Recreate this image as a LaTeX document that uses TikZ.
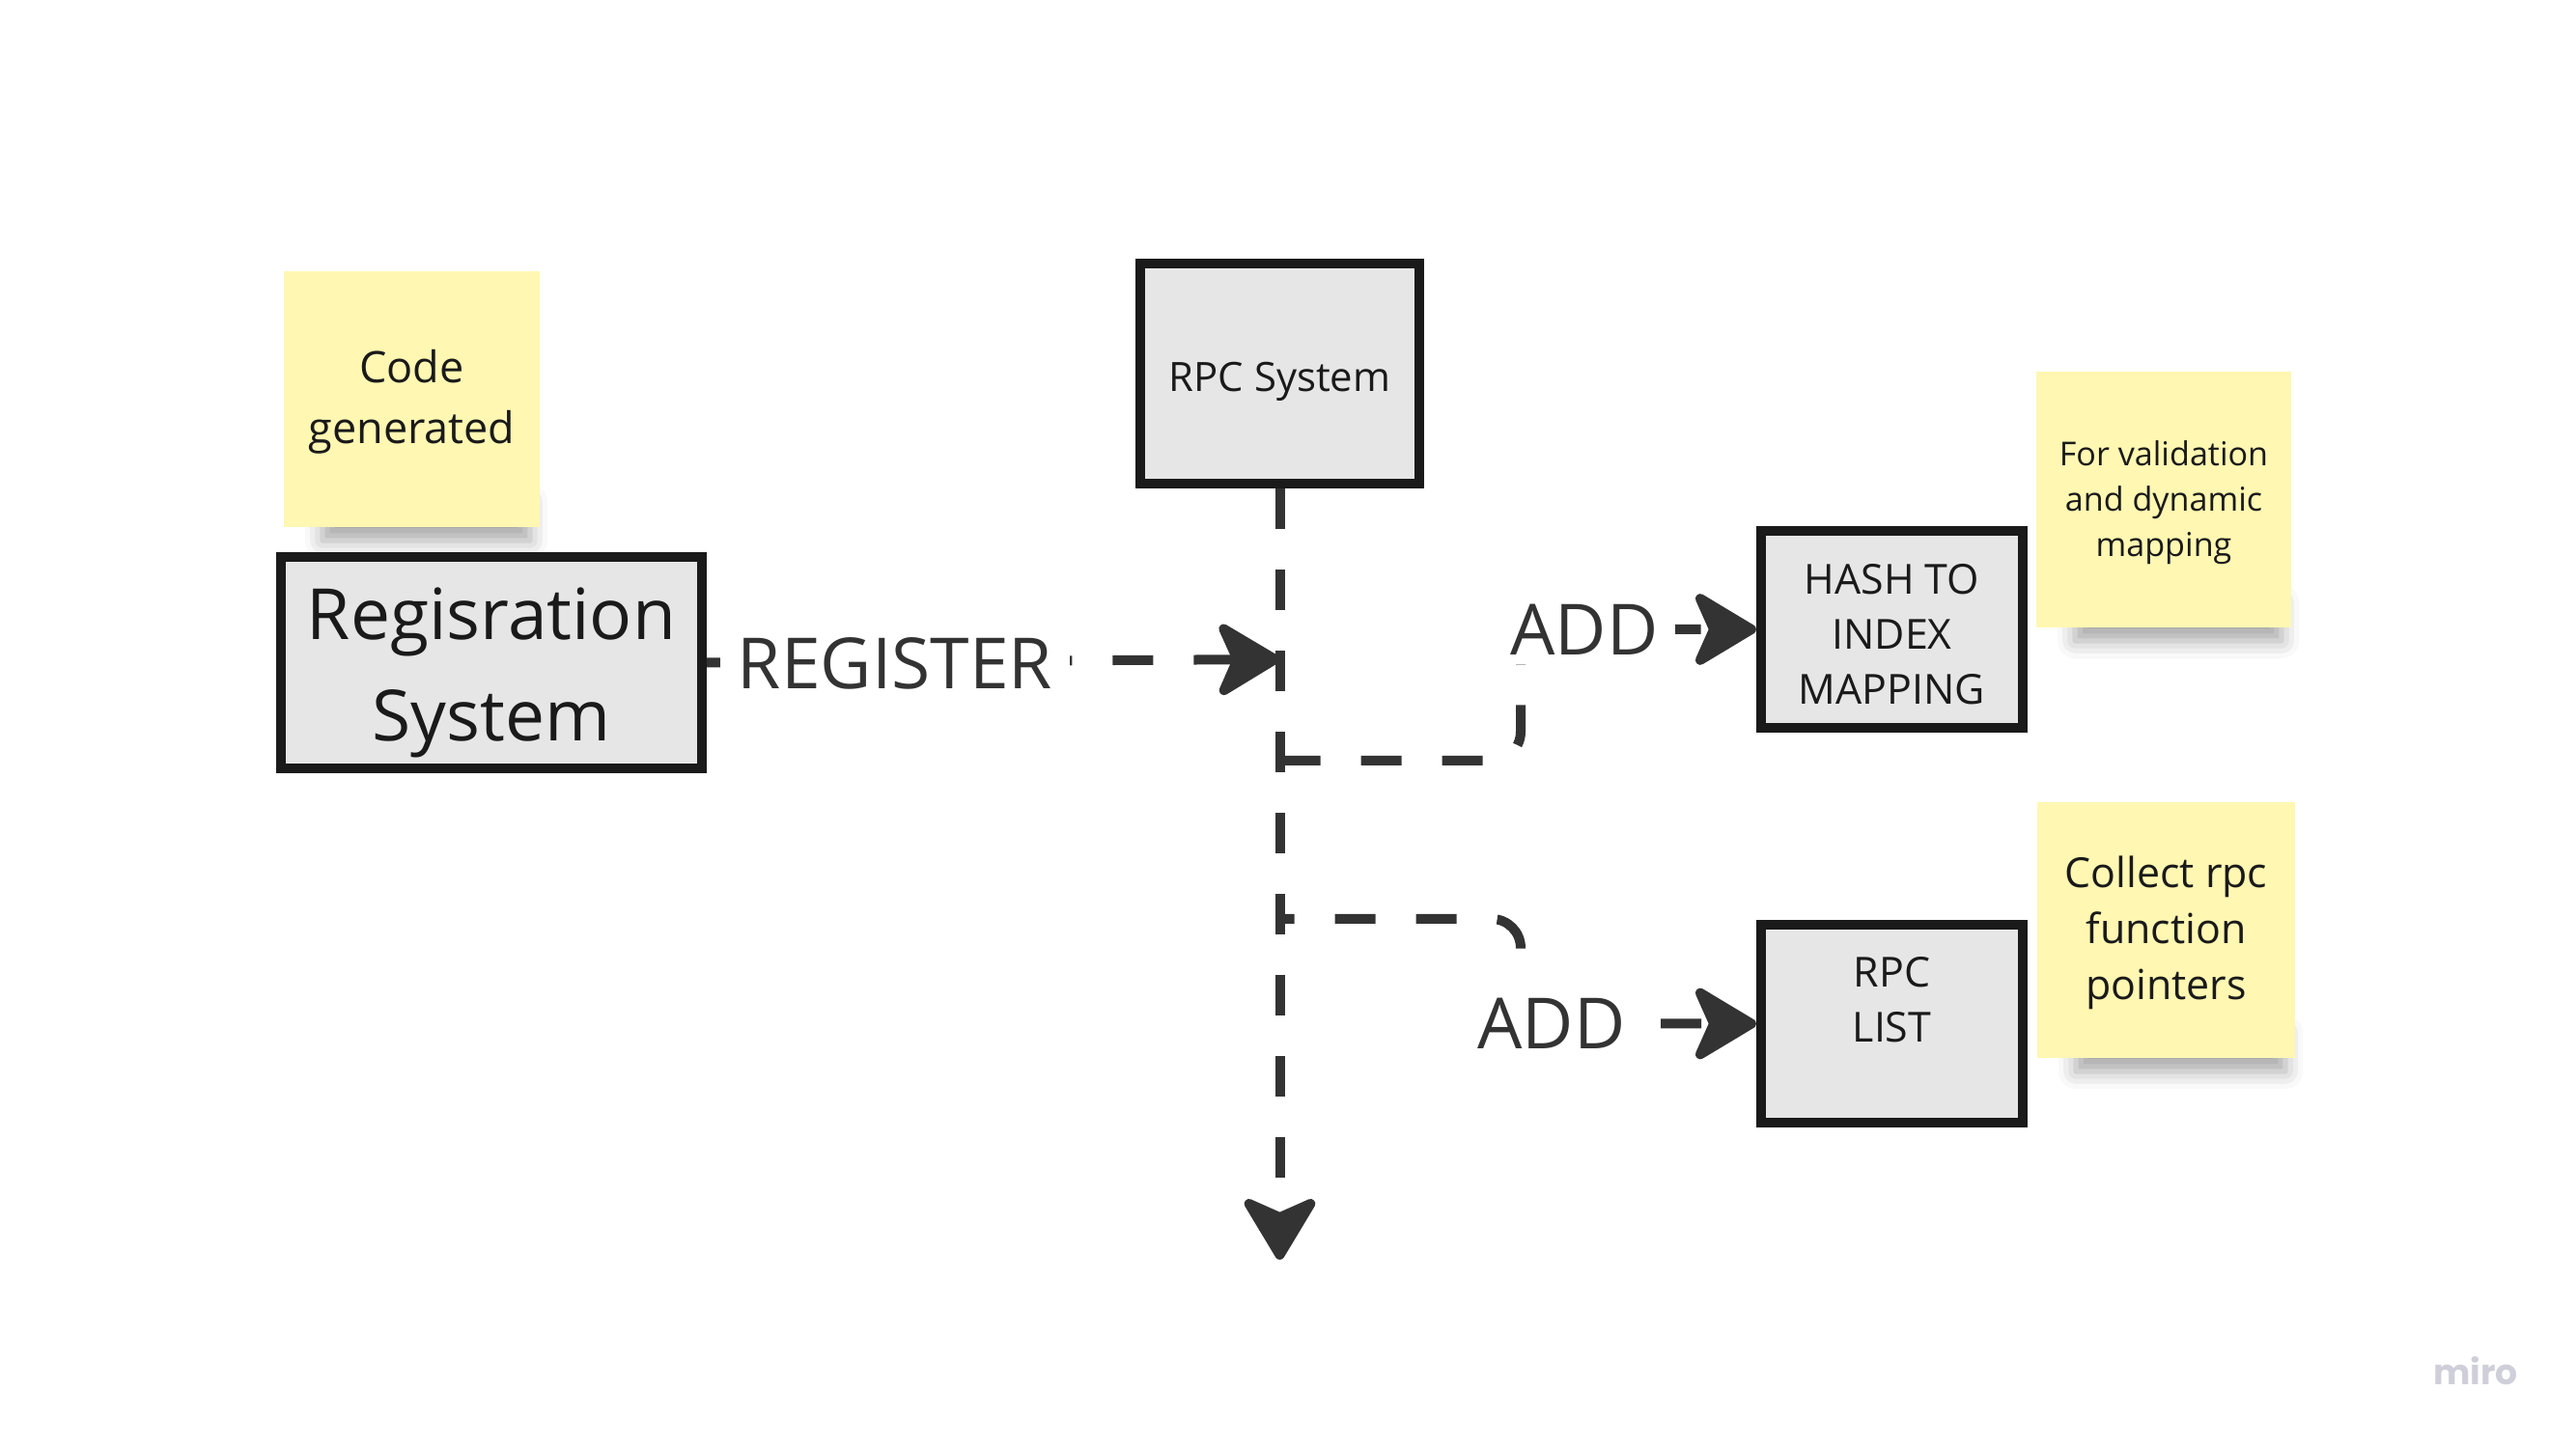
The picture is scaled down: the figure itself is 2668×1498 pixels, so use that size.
\documentclass[tikz,border=0pt]{standalone}
\usepackage{fontspec}
\setmainfont{Open Sans}
\newfontfamily\mirofont{Poppins}
\usetikzlibrary{arrows.meta,shadows.blur}
\definecolor{stickyyellow}{HTML}{FFF7B2}
\definecolor{boxfill}{HTML}{E6E6E6}
\definecolor{boxline}{HTML}{1A1A1A}
\definecolor{connc}{HTML}{333333}
\definecolor{textdark}{HTML}{1A1A1A}
\definecolor{mirogray}{HTML}{CFCFDA}
\tikzset{
  sysbox/.style={draw=boxline, line width=0.1cm, fill=boxfill, inner sep=0pt, align=center, text=textdark},
  sticky/.style={fill=stickyyellow, inner sep=0pt, align=center, text=textdark, minimum height=2.65cm},
  stickyshadow/.style={blur shadow={shadow xshift=0cm, shadow yshift=-0.14cm, shadow blur radius=0.18cm, shadow opacity=35}},
  conn/.style={draw=connc, line width=0.1cm, dash pattern=on 0.42cm off 0.42cm,
    -{Stealth[length=0.73cm, width=0.87cm, inset=0.19cm, round]}},
  connlabel/.style={fill=white, text=connc, inner xsep=0.18cm, inner ysep=0.1cm, font=\fontsize{20.8}{25}\selectfont}
}
\begin{document}
\begin{tikzpicture}[x=0.01cm, y=-0.01cm]
\useasboundingbox (0,0) rectangle (2668,1498);

% sticky shadows
\path[stickyshadow] (334,506) rectangle (549,546);
\path[stickyshadow] (2149,610) rectangle (2363,650);
\path[stickyshadow] (2150,1056) rectangle (2367,1096);

% stickies
\node[sticky, minimum width=2.65cm, font=\fontsize{12.8}{17.9}\selectfont] (s1) at (426.5,413.5) {\rule{0pt}{0.40cm}Code\\generated};
\node[sticky, minimum width=2.64cm, font=\fontsize{9.7}{13.4}\selectfont] (s2) at (2241,517.5) {\rule{0pt}{0.32cm}For validation\\and dynamic\\mapping};
\node[sticky, minimum width=2.67cm, font=\fontsize{12.2}{16.5}\selectfont] (s3) at (2243.5,963.5) {\rule{0pt}{0.39cm}Collect rpc\\function\\pointers};

% boxes
\node[sysbox, minimum width=4.36cm, minimum height=2.19cm, font=\fontsize{20.8}{29.9}\selectfont] (reg) at (509,686.5) {\rule{0pt}{0.75cm}Regisration\\System};
\node[sysbox, minimum width=2.89cm, minimum height=2.28cm, font=\fontsize{11.9}{16}\selectfont] (rpc) at (1325.5,387) {\rule{0pt}{0.48cm}RPC System};
\node[sysbox, minimum width=2.71cm, minimum height=2.04cm, font=\fontsize{12.2}{16.2}\selectfont] (hash) at (1959.5,652) {\rule{0pt}{0.41cm}HASH TO\\INDEX\\MAPPING};
\node[sysbox, minimum width=2.71cm, minimum height=2.05cm, font=\fontsize{12.2}{16.2}\selectfont] (list) at (1959.5,1060.5) {\rule{0pt}{0.37cm}RPC\\LIST\\\mbox{}};

% connector points
\coordinate (regin) at (1325.5,683);
\coordinate (bottom) at (1325.5,1305);
\coordinate (b1) at (1325.5,788);
\coordinate (b2) at (1325.5,952);
\coordinate (c1) at (1575,652);
\coordinate (c2) at (1575,1060.5);

% connectors
\draw[conn] (rpc.south) -- (bottom);
\draw[conn] (reg.east) -- (regin);
\draw[conn, rounded corners=0.3cm] (b1) -| (c1) -- (hash.west);
\draw[conn, dash phase=0.27cm, rounded corners=0.3cm] (b2) -| (c2) -- (list.west);

% labels
\node[connlabel] (lreg) at (927,687) {REGISTER};
\node[connlabel] (ladd1) at (1641,652) {ADD};
\node[connlabel] (ladd2) at (1607,1060) {ADD};

% watermark
\node[text=mirogray, font=\mirofont\bfseries\fontsize{10.3}{12}\selectfont, inner sep=0pt, anchor=base] (miro) at (2564,1435) {miro};
\end{tikzpicture}
\end{document}
